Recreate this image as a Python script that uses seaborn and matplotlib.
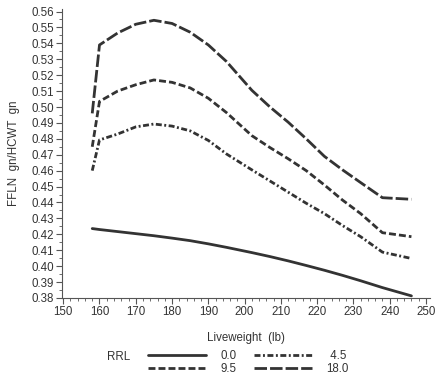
import pandas as pd
import seaborn as sns
import matplotlib.pyplot as plt
from matplotlib.ticker import MultipleLocator

sns.set_theme(style='ticks')
plt.rcParams['font.family'] = ['Liberation Sans', 'DejaVu Sans']
plt.rcParams['lines.scale_dashes'] = False

# liveweight grid (lb) and predicted FFLN/HCWT for each RRL level
weight = [158, 160, 165, 170, 175, 180, 185, 190, 195, 202, 207, 212, 217, 222, 227, 232, 238, 246]
rrl_00 = [0.4236, 0.4230, 0.4217, 0.4204, 0.4191, 0.4176, 0.4160, 0.4140, 0.4118, 0.4085,
          0.4060, 0.4033, 0.4004, 0.3974, 0.3942, 0.3908, 0.3865, 0.3813]
rrl_45 = [0.4600, 0.4793, 0.4830, 0.4875, 0.4893, 0.4880, 0.4850, 0.4790, 0.4705, 0.4605,
          0.4535, 0.4465, 0.4395, 0.4330, 0.4255, 0.4185, 0.4088, 0.4048]
rrl_95 = [0.4750, 0.5035, 0.5100, 0.5140, 0.5170, 0.5155, 0.5120, 0.5055, 0.4965, 0.4820,
          0.4745, 0.4675, 0.4600, 0.4510, 0.4415, 0.4330, 0.4210, 0.4185]
rrl_180 = [0.4960, 0.5390, 0.5465, 0.5520, 0.5545, 0.5525, 0.5470, 0.5390, 0.5286, 0.5105,
           0.5000, 0.4905, 0.4800, 0.4690, 0.4605, 0.4525, 0.4430, 0.4420]
levels = ['0.0', '4.5', '9.5', '18.0']

df = pd.concat([
    pd.DataFrame({'Liveweight': weight, 'FFLN': vals, 'RRL': lev})
    for lev, vals in zip(levels, [rrl_00, rrl_45, rrl_95, rrl_180])
])

dash_map = {'0.0': '', '4.5': (4.3, 1.8, 1.4, 1.8), '9.5': (5.0, 2.2), '18.0': (9.0, 2.2)}
ink = '#333333'

fig = plt.figure(figsize=(4.47, 3.81), dpi=100)
ax = fig.add_axes([0.139, 0.218, 0.822, 0.758])

sns.lineplot(data=df, x='Liveweight', y='FFLN', style='RRL', style_order=levels,
             dashes=dash_map, color=ink, linewidth=2.0, legend=False, ax=ax)

ax.set_xlim(149.7, 251)
ax.set_ylim(0.38, 0.5615)
ax.xaxis.set_major_locator(MultipleLocator(10))
ax.xaxis.set_minor_locator(MultipleLocator(2))
ax.yaxis.set_major_locator(MultipleLocator(0.01))
ax.yaxis.set_minor_locator(MultipleLocator(0.005))
ax.yaxis.set_major_formatter(plt.FormatStrFormatter('%.2f'))
sns.despine(ax=ax)
for s in ['left', 'bottom']:
    ax.spines[s].set_color('#555555')
    ax.spines[s].set_linewidth(0.8)
ax.tick_params(which='major', length=4, width=0.8, color='#555555', labelsize=8.3,
               labelcolor='#333333', pad=2)
ax.tick_params(which='minor', length=2, width=0.6, color='#555555')

ax.set_xlabel('Liveweight  (lb)', fontsize=8.3, color='#333333', labelpad=10)
ax.set_ylabel('FFLN  gn/HCWT  gn', fontsize=8.3, color='#333333', labelpad=8)

# legend below the plot, filled column-wise: 0.0 / 9.5 then 4.5 / 18.0
lines = ax.lines
handles = [lines[0], lines[2], lines[1], lines[3]]
labels = ['0.0', '9.5', ' 4.5', '18.0']
fig.legend(handles, labels, ncol=2, loc='upper left', bbox_to_anchor=(0.331, 0.082),
           frameon=False, fontsize=8.3, handlelength=5.0, handletextpad=1.3,
           columnspacing=1.5, labelspacing=0.15, borderpad=0, borderaxespad=0,
           labelcolor='#333333')
fig.text(0.24, 0.063, 'RRL', fontsize=8.3, color='#333333', va='center')

fig.savefig('out.png', dpi=100, facecolor='white')
